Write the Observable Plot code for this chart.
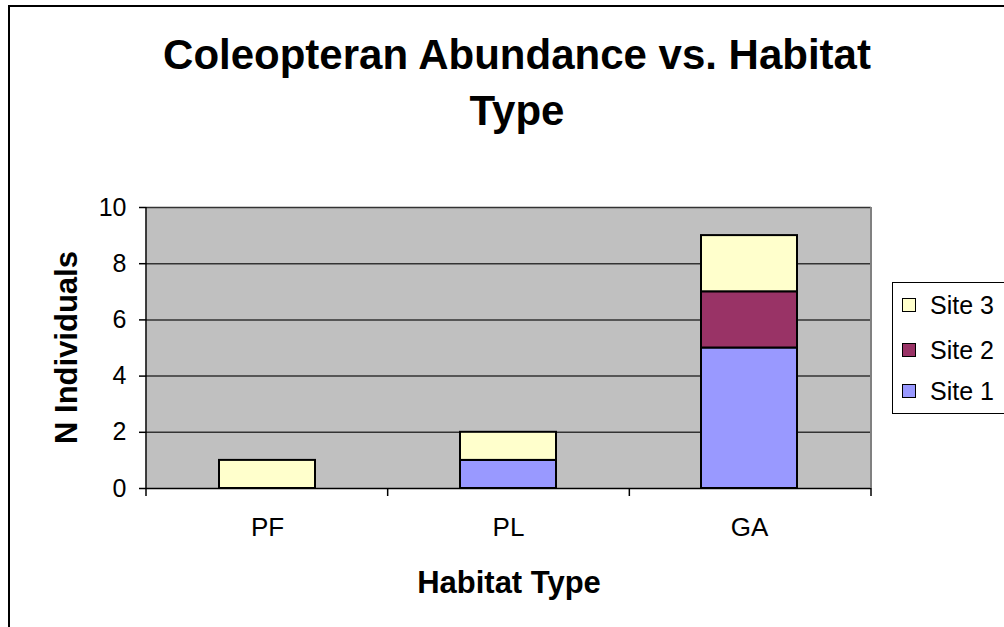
<!DOCTYPE html>
<html><head><meta charset="utf-8">
<script src="https://cdn.jsdelivr.net/npm/d3@7"></script>
<script src="https://cdn.jsdelivr.net/npm/@observablehq/plot@0.6"></script>
<style>
html,body{margin:0;padding:0;background:#fff;overflow:hidden;}
#wrap{position:relative;width:1004px;height:627px;overflow:hidden;font-family:"Liberation Sans",Arial,Helvetica,sans-serif;color:#000;}
#border{position:absolute;left:8px;top:5px;width:1100px;height:800px;border:2px solid #000;box-sizing:border-box;}
#chart{position:absolute;left:0;top:0;}
#title{position:absolute;left:17px;top:27px;width:1000px;text-align:center;font-weight:bold;font-size:42px;line-height:56px;}
#xtitle{position:absolute;left:359px;top:567px;width:300px;text-align:center;font-weight:bold;font-size:31px;line-height:31px;}
#ytitle{position:absolute;left:-84px;top:332px;width:300px;text-align:center;font-weight:bold;font-size:31px;line-height:31px;transform:rotate(-90deg);}
#legend{position:absolute;left:892px;top:282px;width:140px;height:132px;border:1px solid #000;box-sizing:border-box;background:#fff;}
.item{position:absolute;left:9px;height:30px;line-height:30px;font-size:25px;white-space:nowrap;}
.sw{position:absolute;left:0;top:8px;width:14px;height:14px;border:1px solid #000;box-sizing:border-box;}
.lab{position:absolute;left:28px;top:0;}
</style>
</head><body>
<div id="wrap">
  <div id="border"></div>
  <div id="chart"></div>
  <div id="title">Coleopteran Abundance vs. Habitat<br>Type</div>
  <div id="ytitle">N Individuals</div>
  <div id="xtitle">Habitat Type</div>
  <div id="legend"></div>
</div>
<script>
const habitats = ["PF", "PL", "GA"];
const sites = ["Site 1", "Site 2", "Site 3"];
const site1 = [0, 1, 5];
const site2 = [0, 0, 2];
const site3 = [1, 1, 2];
const siteColors = ["#9999FF", "#993366", "#FFFFCC"];
const yTicks = [0, 2, 4, 6, 8, 10];
const gridValues = [2, 4, 6, 8, 10];

const seriesValues = [site1, site2, site3];
const data = [];
habitats.forEach((h, i) => {
  sites.forEach((s, j) => {
    data.push({habitat: h, site: s, n: seriesValues[j][i]});
  });
});

function frameLines(index, scales, values, dims) {
  const g = d3.create("svg:g");
  const x0 = dims.marginLeft, x1 = dims.width - dims.marginRight;
  const yt = dims.marginTop, yb = dims.height - dims.marginBottom;
  const step = (x1 - x0) / habitats.length;
  g.append("line").attr("x1", x1).attr("x2", x1).attr("y1", yt).attr("y2", yb)
    .attr("stroke", "#808080").attr("stroke-width", 2);
  g.append("line").attr("x1", x0).attr("x2", x0).attr("y1", yt).attr("y2", yb)
    .attr("stroke", "#000").attr("stroke-width", 1.5);
  for (let i = 0; i <= habitats.length; i++) {
    const x = x0 + i * step;
    g.append("line").attr("x1", x).attr("x2", x).attr("y1", yb).attr("y2", yb + 8)
      .attr("stroke", "#000").attr("stroke-width", 1.5);
  }
  return g.node();
}

const plot = Plot.plot({
  width: 1004,
  height: 627,
  marginLeft: 146,
  marginRight: 133,
  marginTop: 207,
  marginBottom: 139,
  style: {fontSize: "25px", fontFamily: "'Liberation Sans', Arial, Helvetica, sans-serif", background: "transparent", color: "#000"},
  x: {domain: habitats, paddingInner: 0.6, paddingOuter: 0.3, label: null},
  y: {domain: [0, 10], label: null},
  color: {domain: sites, range: siteColors},
  marks: [
    Plot.frame({fill: "#C0C0C0", stroke: "none"}),
    Plot.ruleY(gridValues, {stroke: "#333", strokeWidth: 1.5}),
    Plot.barY(data.filter(d => d.n > 0), {x: "habitat", y: "n", fill: "site", stroke: "#000", strokeWidth: 2}),
    Plot.ruleY([0], {stroke: "#000", strokeWidth: 1.5}),
    frameLines,
    Plot.axisY({ticks: yTicks, tickSize: 7, tickPadding: 13, tickFormat: d => String(d), label: null, strokeWidth: 1.5}),
    Plot.axisX({tickSize: 0, tickPadding: 29, label: null, fontSize: 26})
  ]
});
document.getElementById("chart").appendChild(plot);

const legend = document.getElementById("legend");
const rowCenters = [305, 350, 391];
sites.slice().reverse().forEach((s, k) => {
  const j = sites.indexOf(s);
  const item = document.createElement("div");
  item.className = "item";
  item.style.top = (rowCenters[k] - 283 - 15) + "px";
  const sw = document.createElement("div");
  sw.className = "sw";
  sw.style.background = siteColors[j];
  const lab = document.createElement("span");
  lab.className = "lab";
  lab.textContent = s;
  item.appendChild(sw);
  item.appendChild(lab);
  legend.appendChild(item);
});
</script>
</body></html>
